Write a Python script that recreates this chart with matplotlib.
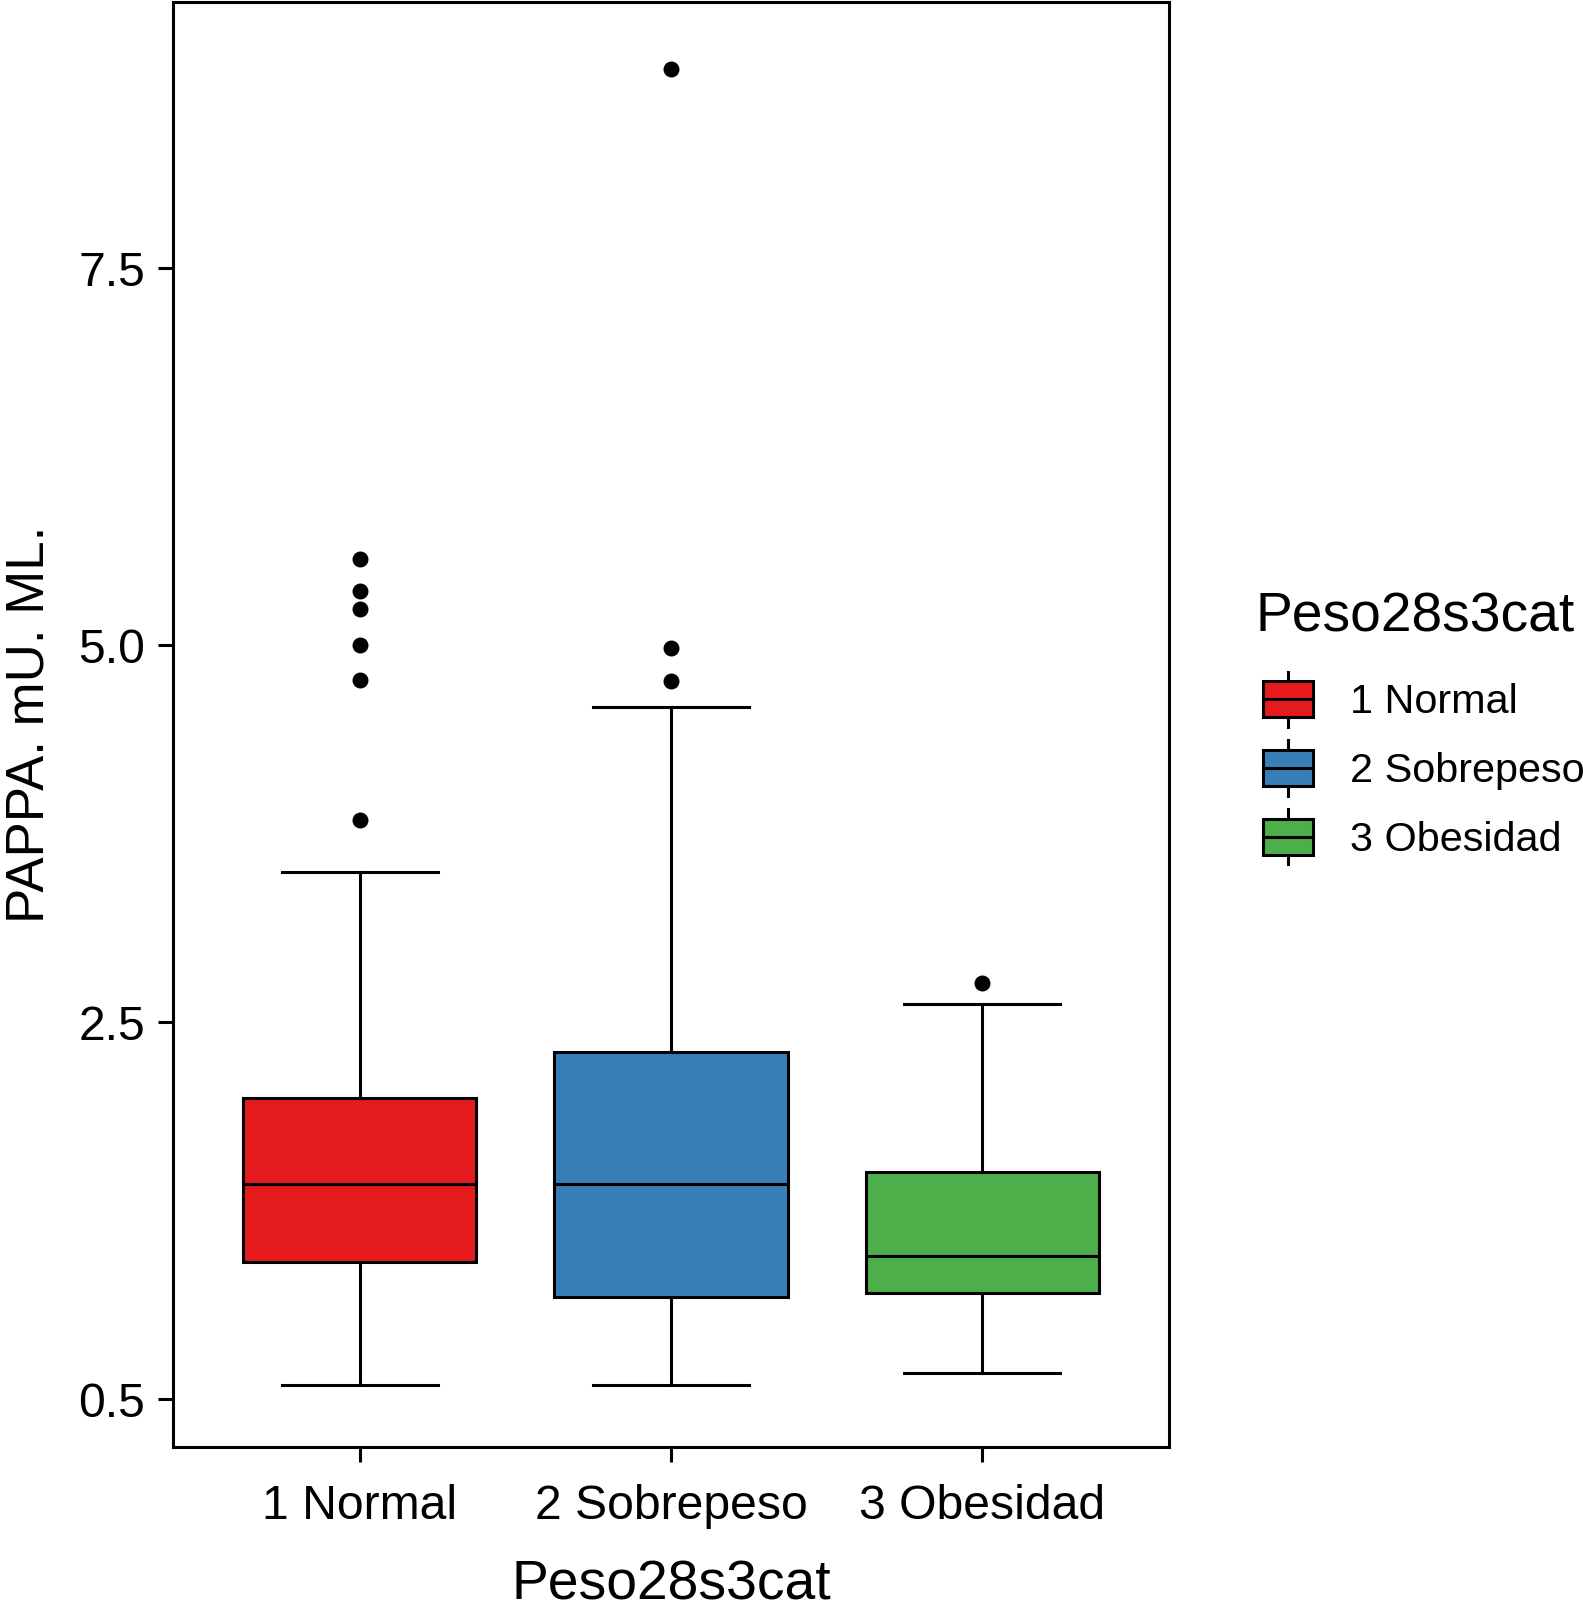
import matplotlib
matplotlib.use("Agg")
import matplotlib.pyplot as plt
from matplotlib.patches import Rectangle
from matplotlib.lines import Line2D
from matplotlib.legend_handler import HandlerBase

plt.rcParams['font.family'] = ['Liberation Sans', 'DejaVu Sans']

# ---- data ----
categories = ["1 Normal", "2 Sobrepeso", "3 Obesidad"]
colors = ["#E41A1C", "#377EB8", "#4DAF4A"]
whislo = [0.095, 0.095, 0.174]
q1 = [0.910, 0.680, 0.703]
med = [1.426, 1.426, 0.952]
q3 = [1.996, 2.301, 1.505]
whishi = [3.497, 4.593, 2.621]
outliers = [
    [5.574, 5.358, 5.239, 5.000, 4.768, 3.843],
    [8.820, 4.980, 4.765],
    [2.759],
]
ytick_pos = [0.0, 2.5, 5.0, 7.5]
ytick_labels = ["0.5", "2.5", "5.0", "7.5"]
x_title = "Peso28s3cat"
y_title = "PAPPA. mU. ML."
legend_title = "Peso28s3cat"

W, H = 1583, 1612
fig = plt.figure(figsize=(W / 100, H / 100), dpi=100)
ax = fig.add_axes([173 / W, 1 - 1446.7 / H, (1169 - 173) / W, (1446.7 - 2) / H])

lw = 2.2
stats = []
for i in range(len(categories)):
    stats.append(dict(whislo=whislo[i], q1=q1[i], med=med[i], q3=q3[i],
                      whishi=whishi[i], fliers=outliers[i], label=categories[i]))

bp = ax.bxp(stats, positions=[1, 2, 3], widths=0.75, capwidths=0.5,
            patch_artist=True, showfliers=True,
            boxprops=dict(linewidth=lw, edgecolor='black'),
            medianprops=dict(color='black', linewidth=lw),
            whiskerprops=dict(color='black', linewidth=lw),
            capprops=dict(color='black', linewidth=lw),
            flierprops=dict(marker='o', markerfacecolor='black', markeredgecolor='black',
                            markersize=11.5, markeredgewidth=0))
for patch, c in zip(bp['boxes'], colors):
    patch.set_facecolor(c)
    patch.set_zorder(2)

ax.set_xlim(0.4, 3.6)
ax.set_ylim(-0.314, 9.266)
ax.set_yticks(ytick_pos)
ax.set_yticklabels(ytick_labels)
ax.set_xticks([1, 2, 3])
ax.set_xticklabels(categories)
ax.tick_params(axis='both', length=11, width=lw, color='black', labelcolor='black',
               labelsize=34.7)
ax.tick_params(axis='y', pad=9)
ax.tick_params(axis='x', pad=16)
for s in ax.spines.values():
    s.set_linewidth(lw)
    s.set_color('black')

ax.set_xlabel(x_title, fontsize=39.8, labelpad=22)
ax.set_ylabel(y_title, fontsize=38, labelpad=17)


class HandlerBox(HandlerBase):
    def create_artists(self, legend, orig_handle, xdescent, ydescent, width, height,
                       fontsize, trans):
        cx = -xdescent + width / 2
        cy = -ydescent + height / 2
        bh = fontsize * 0.87
        wh = fontsize * 1.33
        vl = Line2D([cx, cx], [cy - wh / 2, cy + wh / 2], color='black',
                    linewidth=lw, transform=trans)
        rect = Rectangle((-xdescent, cy - bh / 2), width, bh,
                         facecolor=orig_handle.get_facecolor(), edgecolor='black',
                         linewidth=lw, transform=trans)
        ml = Line2D([-xdescent, -xdescent + width], [cy, cy], color='black',
                    linewidth=lw, transform=trans)
        return [vl, rect, ml]


handles = [Rectangle((0, 0), 1, 1, facecolor=c) for c in colors]
leg = fig.legend(handles, categories, handler_map={Rectangle: HandlerBox()},
                 loc='center left', bbox_to_anchor=(1263 / W, 1 - 768 / H),
                 frameon=False, fontsize=29.8,
                 handlelength=1.22, handleheight=1.33,
                 labelspacing=0.55, handletextpad=0.88, borderpad=0,
                 borderaxespad=0)
fig.text(1256 / W, 1 - 617 / H, legend_title, fontsize=39.7, ha='left', va='center')

fig.savefig("out.png", dpi=100)
